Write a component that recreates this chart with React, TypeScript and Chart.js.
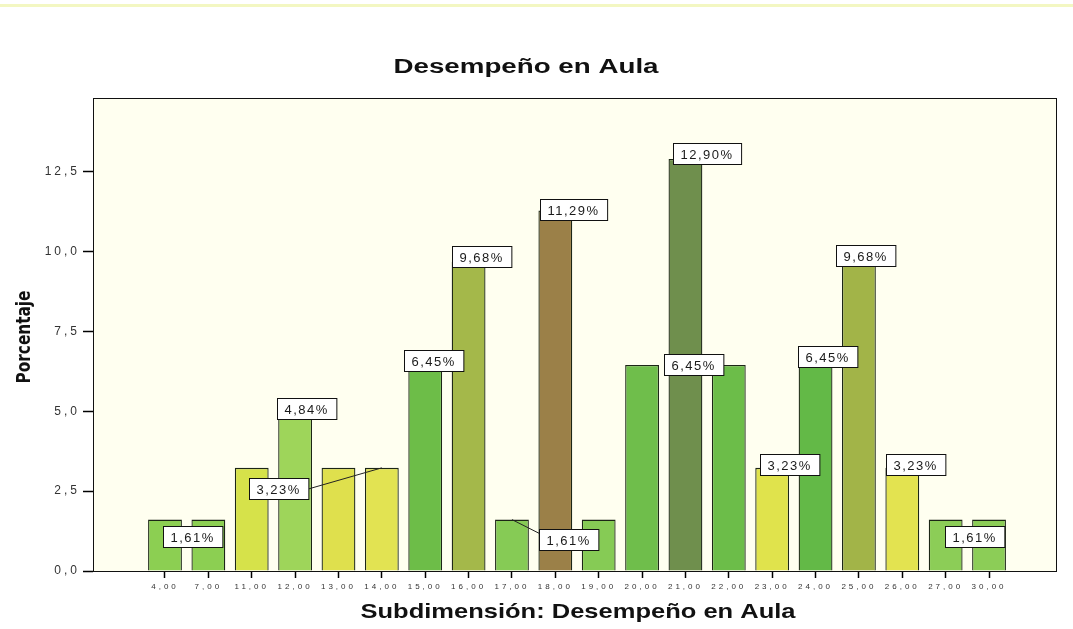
import React, { useEffect, useRef } from 'react';
import { Chart, registerables } from 'chart.js';

Chart.register(...registerables);

// ---- data ----
const categories = ['4,00', '7,00', '11,00', '12,00', '13,00', '14,00', '15,00', '16,00', '17,00', '18,00',
  '19,00', '20,00', '21,00', '22,00', '23,00', '24,00', '25,00', '26,00', '27,00', '30,00'];
const percentages = [1.61, 1.61, 3.23, 4.84, 3.23, 3.23, 6.45, 9.68, 1.61, 11.29,
  1.61, 6.45, 12.90, 6.45, 3.23, 6.45, 9.68, 3.23, 1.61, 1.61];
const yTickValues = [0, 2.5, 5, 7.5, 10, 12.5];
// which bars each value label belongs to (label value)
const labelGroups = [[0, 1], [3], [5], [6], [7], [9], [12], [11, 13], [8], [14], [15], [16], [17], [18, 19]];

const titleText = 'Desempeño en Aula';
const xTitleText = 'Subdimensión: Desempeño en Aula';
const yTitleText = 'Porcentaje';

// ---- styles ----
const barColors = ['#8ccf52', '#8ccf52', '#d6e24a', '#9ed55a', '#dfe04d', '#e2e352', '#6dbd48', '#a4b84a',
  '#86cb55', '#9b8048', '#86cb55', '#6fbe4b', '#6f8f4d', '#6cbd49', '#e0e34c', '#63b947', '#a2b448',
  '#e3e350', '#8ccd57', '#8ccd57'];
const labelOffsets = [[6, 17], [12, -8], [-103, 21], [8, -5], [13, -5], [18, -1], [22, -6], [8, -1],
  [57, 20], [17, -3], [12, -9], [7, -6], [13, -3], [7, 17]];
const leaderLabels = [2, 8];
const FONT = '"Liberation Sans", Arial, sans-serif';

const fmt = (v: number) => v.toFixed(2).replace('.', ',') + '%';

function drawStretched(ctx: CanvasRenderingContext2D, text: string, cx: number, cy: number,
  target: number, font: string, rot = 0) {
  ctx.save();
  ctx.letterSpacing = '0px';
  ctx.font = font;
  const w = ctx.measureText(text).width;
  ctx.translate(cx, cy);
  if (rot) ctx.rotate(rot);
  ctx.scale(target / w, 1);
  ctx.textAlign = 'center';
  ctx.textBaseline = 'alphabetic';
  ctx.fillStyle = '#111';
  ctx.fillText(text, 0, 0);
  ctx.restore();
}

const decor = {
  id: 'decor',
  beforeDraw(chart: any) {
    const { ctx, chartArea } = chart;
    const { left, top, right, bottom } = chartArea;
    ctx.save();
    ctx.fillStyle = '#ffffff';
    ctx.fillRect(0, 0, chart.width, chart.height);
    ctx.fillStyle = '#f3f7c2';
    ctx.fillRect(0, 4, chart.width, 3);
    ctx.fillStyle = '#fffff0';
    ctx.fillRect(left, top, right - left, bottom - top);
    ctx.restore();
    ctx.letterSpacing = '3px';
  },
  afterDatasetsDraw(chart: any) {
    const { ctx } = chart;
    const xs = chart.scales.x;
    const ys = chart.scales.y;
    ctx.save();
    ctx.letterSpacing = '1.5px';
    ctx.font = '13px ' + FONT;
    labelGroups.forEach((g, i) => {
      const idx = g.reduce((a, b) => a + b, 0) / g.length;
      const val = percentages[g[0]];
      const ax = xs.getPixelForValue(idx);
      const ay = ys.getPixelForValue(val);
      const cx = ax + labelOffsets[i][0];
      const cy = ay + labelOffsets[i][1];
      const text = fmt(val);
      const w = ctx.measureText(text).width + 15;
      const h = 21;
      const bx = Math.round(cx - w / 2) + 0.5;
      const by = Math.round(cy - h / 2) + 0.5;
      if (leaderLabels.includes(i)) {
        ctx.strokeStyle = '#222';
        ctx.lineWidth = 1;
        ctx.beginPath();
        if (cx < ax) {
          ctx.moveTo(bx + w, cy);
        } else {
          ctx.moveTo(bx, by + 4);
        }
        ctx.lineTo(ax, ay);
        ctx.stroke();
      }
      ctx.fillStyle = '#ffffff';
      ctx.fillRect(bx, by, w, h);
      ctx.strokeStyle = '#111';
      ctx.lineWidth = 1;
      ctx.strokeRect(bx, by, w, h);
      ctx.fillStyle = '#1a1a1a';
      ctx.textAlign = 'left';
      ctx.textBaseline = 'middle';
      ctx.fillText(text, bx + 7, by + h / 2 + 1);
    });
    ctx.restore();
  },
  afterDraw(chart: any) {
    const { ctx, chartArea } = chart;
    const { left, top, right, bottom } = chartArea;
    ctx.save();
    ctx.letterSpacing = '0px';
    ctx.strokeStyle = '#111';
    ctx.lineWidth = 1;
    ctx.strokeRect(left + 0.5, top + 0.5, right - left, bottom - top);
    ctx.restore();
    drawStretched(ctx, titleText, 526, 73, 265, 'bold 20px ' + FONT);
    drawStretched(ctx, xTitleText, 578, 618, 435, 'bold 21px ' + FONT);
    drawStretched(ctx, yTitleText, 30, 337, 93,
      'bold 19px "Liberation Sans Narrow", "DejaVu Sans Condensed", ' + FONT, -Math.PI / 2);
    ctx.letterSpacing = '0px';
  },
};

export default function App() {
  const ref = useRef<HTMLCanvasElement>(null);
  useEffect(() => {
    const chart = new Chart(ref.current as HTMLCanvasElement, {
      type: 'bar',
      data: {
        datasets: [{
          data: percentages.map((v, i) => ({ x: i, y: v })) as any,
          backgroundColor: barColors,
          borderColor: '#1c2616',
          borderWidth: 1.3,
          barPercentage: 0.78,
          categoryPercentage: 1,
        }],
      },
      options: {
        animation: false,
        responsive: false,
        devicePixelRatio: 1,
        layout: { padding: { top: 98, right: 17, left: 0, bottom: 0 } },
        plugins: { legend: { display: false }, title: { display: false }, tooltip: { enabled: false } },
        scales: {
          x: {
            type: 'linear',
            min: -1.66,
            max: 20.544,
            offset: false,
            afterBuildTicks: (s: any) => { s.ticks = categories.map((_, i) => ({ value: i })); },
            afterFit: (s: any) => { s.height = 58; },
            ticks: {
              autoSkip: false,
              maxRotation: 0,
              callback: (_v: any, i: number) => categories[i],
              font: { size: 8, family: FONT },
              color: '#333',
              padding: 4,
            },
            grid: {
              offset: false, drawOnChartArea: false, drawTicks: true, tickLength: 7,
              color: '#000', tickColor: '#000', tickWidth: 1.5,
            },
            border: { display: true, color: '#000' },
          },
          y: {
            type: 'linear',
            min: 0,
            max: 14.81,
            afterBuildTicks: (s: any) => { s.ticks = yTickValues.map((v) => ({ value: v })); },
            afterFit: (s: any) => { s.width = 93; },
            ticks: {
              callback: (v: any) => Number(v).toFixed(1).replace('.', ','),
              font: { size: 12, family: FONT },
              color: '#333',
              padding: 3,
            },
            grid: {
              drawOnChartArea: false, drawTicks: true, tickLength: 10,
              color: '#000', tickColor: '#000', tickWidth: 1.5,
            },
            border: { display: true, color: '#000' },
          },
        },
      },
      plugins: [decor],
    } as any);
    return () => chart.destroy();
  }, []);
  return (
    <div style={{ position: 'fixed', left: 0, top: 0, width: 1073, height: 629, background: '#fff' }}>
      <canvas ref={ref} width={1073} height={629} style={{ display: 'block' }} />
    </div>
  );
}
